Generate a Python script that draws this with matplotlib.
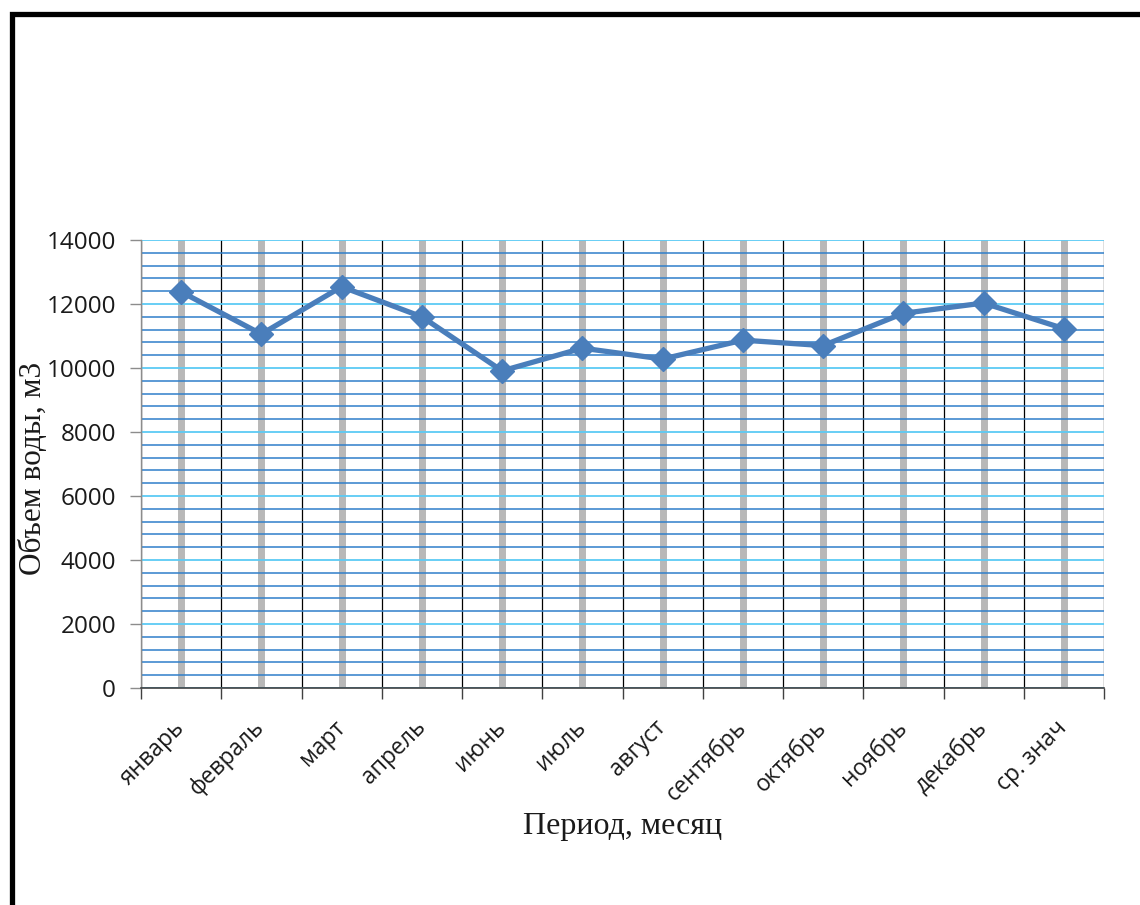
import matplotlib
matplotlib.use("Agg")
import matplotlib.pyplot as plt
from matplotlib.patches import Rectangle
from matplotlib.ticker import MultipleLocator, FixedLocator, NullFormatter

# Monthly water volume, m3
months = ["январь", "февраль", "март", "апрель", "июнь", "июль",
          "август", "сентябрь", "октябрь", "ноябрь", "декабрь", "ср. знач"]
volumes = [12380, 11060, 12540, 11600, 9910, 10620,
           10280, 10870, 10700, 11710, 12030, 11230]

y_ticks = [0, 2000, 4000, 6000, 8000, 10000, 12000, 14000]

fig = plt.figure(figsize=(11.4, 9.05), dpi=100)
fig.patch.set_facecolor("white")

# heavy black frame around the chart area
fig.patches.append(Rectangle((11.5 / 1140, -0.2), 1.5, 1.2 - 14.5 / 905,
                             transform=fig.transFigure, fill=False,
                             edgecolor="black", linewidth=3.8, zorder=0))

ax = fig.add_axes([141 / 1140, 1 - 688 / 905, (1104 - 141) / 1140, (688 - 240) / 905])

n = len(months)
xs = list(range(n))
ax.set_xlim(-0.5, n - 0.5)
ax.set_ylim(0, 14000)

# horizontal grid: minor every 400, major every 2000
ax.yaxis.set_major_locator(FixedLocator(y_ticks))
ax.yaxis.set_minor_locator(MultipleLocator(400))
ax.grid(which="minor", axis="y", color="#2f7fca", linewidth=1.1, zorder=1)
ax.grid(which="major", axis="y", color="#5ccaf4", linewidth=1.3, zorder=1)

# vertical grid: gray at categories, black at category borders
ax.xaxis.set_major_locator(FixedLocator(xs))
ax.xaxis.set_minor_locator(FixedLocator([i - 0.5 for i in range(n + 1)]))
ax.grid(which="major", axis="x", color="#b8b8b8", linewidth=5.0, zorder=1.2)
ax.grid(which="minor", axis="x", color="black", linewidth=0.9, zorder=1.1)

ax.plot(xs, volumes, color="#4a7ebb", linewidth=3.8, marker="D",
        markersize=12, markerfacecolor="#4a7ebb", markeredgecolor="#4a7ebb",
        zorder=3, clip_on=False)

for side in ("top", "right"):
    ax.spines[side].set_visible(False)
ax.spines["left"].set_color("#8c8c8c")
ax.spines["left"].set_linewidth(1.0)
ax.spines["bottom"].set_color("#404040")
ax.spines["bottom"].set_linewidth(1.2)

ax.tick_params(axis="y", which="major", length=8, color="#8c8c8c", width=1.0,
               pad=10, labelsize=17.5, labelcolor="#1a1a1a")
ax.tick_params(axis="y", which="minor", length=0)
ax.tick_params(axis="x", which="major", length=0, pad=26)
ax.tick_params(axis="x", which="minor", length=8, color="#404040", width=1.0)
ax.xaxis.set_minor_formatter(NullFormatter())

for lab in ax.get_yticklabels():
    lab.set_fontfamily("Open Sans")

ax.set_xticklabels(months, rotation=45, ha="right", va="center",
                   rotation_mode="anchor", fontsize=16.5, family="Open Sans",
                   color="#1a1a1a")

ax.set_axisbelow(True)

fig.text(623 / 1140, 1 - 826 / 905, "Период, месяц", ha="center", va="center",
         fontsize=23, family="Liberation Serif", color="#1a1a1a")
fig.text(34 / 1140, 1 - 468 / 905, "Объем воды, м3", ha="center", va="center",
         rotation=90, fontsize=22.5, family="Liberation Serif", color="#1a1a1a")

fig.savefig("out.png", dpi=100, facecolor="white")
